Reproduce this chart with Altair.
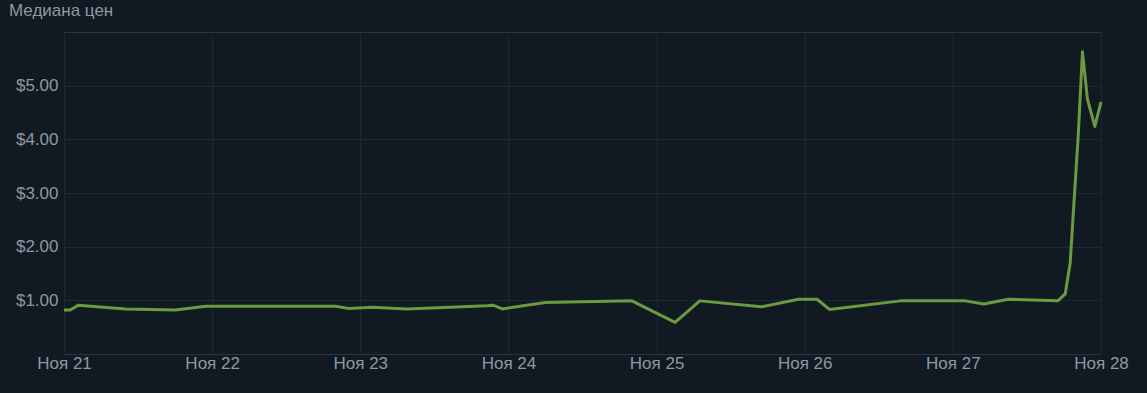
import altair as alt
import pandas as pd

# hours since Nov 21 00:00
hours = [0, 1, 2.3, 10, 18, 23, 44, 46, 50, 55.5, 68.5, 69.5, 71, 78, 92, 99,
         103, 113, 119, 122, 124, 135.5, 146, 149, 153, 161, 162.2, 163,
         164.3, 165, 165.8, 167, 168]
prices = [0.82, 0.82, 0.91, 0.84, 0.82, 0.89, 0.89, 0.85, 0.87, 0.84, 0.90,
          0.91, 0.84, 0.96, 0.99, 0.59, 0.99, 0.88, 1.02, 1.02, 0.83, 0.99,
          0.99, 0.93, 1.02, 0.99, 1.12, 1.69, 4.05, 5.63, 4.75, 4.24, 4.70]
day_ticks = [21, 22, 23, 24, 25, 26, 27, 28]
y_ticks = [1, 2, 3, 4, 5]

base = pd.Timestamp("2023-11-21 00:00")
times = [(base + pd.Timedelta(hours=h)).strftime("%Y-%m-%dT%H:%M:%S") for h in hours]
df = pd.DataFrame({"t": times, "price": prices})

BG = "#111a23"
GRID = "#1d2834"
BORDER = "#2a3541"
TXT = "#8f98a0"
FONT = "Liberation Sans"

x = alt.X(
    "t:T",
    scale=alt.Scale(domain=[alt.DateTime(year=2023, month=11, date=21),
                            alt.DateTime(year=2023, month=11, date=28)]),
    axis=alt.Axis(
        values=[alt.DateTime(year=2023, month=11, date=d) for d in day_ticks],
        labelExpr="'Ноя ' + timeFormat(datum.value, '%d')",
        title=None, domain=False, ticks=False, grid=True, gridColor=GRID,
        labelColor=TXT, labelFont=FONT, labelFontSize=17, labelPadding=1,
        labelFlush=False, labelOverlap=False,
    ),
)
y = alt.Y(
    "price:Q",
    scale=alt.Scale(domain=[0, 6], nice=False),
    axis=alt.Axis(
        values=y_ticks, format="$.2f", title=None, domain=False, ticks=False,
        grid=True, gridColor=GRID, labelColor=TXT, labelFont=FONT,
        labelFontSize=17, labelPadding=6,
    ),
)

chart = (
    alt.Chart(df)
    .mark_line(color="#6b9a40", strokeWidth=3, strokeJoin="round")
    .encode(x=x, y=y)
    .properties(
        width=1037, height=322,
        autosize=alt.AutoSizeParams(type="none"),
        padding={"left": 64, "top": 32, "right": 46, "bottom": 39},
        title=alt.TitleParams(
            "Медиана цен", anchor="start", frame="group", dx=-55, offset=12,
            fontSize=17, font=FONT, fontWeight="normal", color=TXT,
        ),
    )
    .configure(background=BG)
    .configure_view(stroke=BORDER, strokeWidth=1)
)

chart.save("out.html", embed_options={"renderer": "svg", "actions": False})
